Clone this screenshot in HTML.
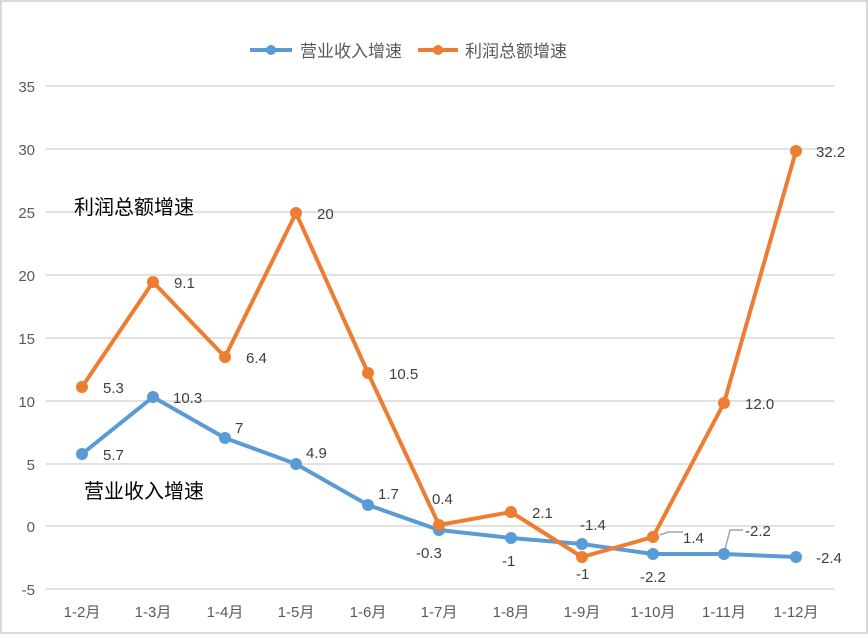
<!DOCTYPE html>
<html><head><meta charset="utf-8"><style>
html,body{margin:0;padding:0;background:#fff}
svg text{font-family:"Liberation Sans","Noto Sans CJK SC",sans-serif}
</style></head><body>
<svg width="868" height="634" viewBox="0 0 868 634" xmlns="http://www.w3.org/2000/svg">
<rect x="1" y="1" width="866" height="632" fill="#fff" stroke="#d9d9d9" stroke-width="2"/>
<g stroke="#d9d9d9" stroke-width="1.5">
<line x1="46" y1="86" x2="834" y2="86"/>
<line x1="46" y1="149" x2="834" y2="149"/>
<line x1="46" y1="212" x2="834" y2="212"/>
<line x1="46" y1="275" x2="834" y2="275"/>
<line x1="46" y1="338" x2="834" y2="338"/>
<line x1="46" y1="401" x2="834" y2="401"/>
<line x1="46" y1="464" x2="834" y2="464"/>
<line x1="46" y1="526" x2="834" y2="526"/>
<line x1="46" y1="589" x2="834" y2="589"/>
</g>
<g font-size="15" fill="#595959" text-anchor="end">
<text x="35" y="92">35</text><text x="35" y="155">30</text><text x="35" y="218">25</text>
<text x="35" y="281">20</text><text x="35" y="344">15</text><text x="35" y="407">10</text>
<text x="35" y="470">5</text><text x="35" y="532">0</text><text x="35" y="595">-5</text>
</g>
<g font-size="15" fill="#595959" text-anchor="middle">
<text x="82" y="617">1-2月</text><text x="153" y="617">1-3月</text><text x="225" y="617">1-4月</text>
<text x="296" y="617">1-5月</text><text x="368" y="617">1-6月</text><text x="439" y="617">1-7月</text>
<text x="511" y="617">1-8月</text><text x="582" y="617">1-9月</text><text x="653" y="617">1-10月</text>
<text x="724" y="617">1-11月</text><text x="796" y="617">1-12月</text>
</g>
<!-- legend -->
<line x1="250" y1="50" x2="292" y2="50" stroke="#5b9bd5" stroke-width="4"/>
<circle cx="271" cy="50" r="5" fill="#5b9bd5"/>
<text x="300" y="57" font-size="17" fill="#595959">营业收入增速</text>
<line x1="418" y1="50" x2="458" y2="50" stroke="#ed7d31" stroke-width="4"/>
<circle cx="438" cy="50" r="5" fill="#ed7d31"/>
<text x="465" y="57" font-size="17" fill="#595959">利润总额增速</text>
<!-- leader lines -->
<polyline points="660,535 668,532 683,532" fill="none" stroke="#a6a6a6" stroke-width="1.5"/>
<polyline points="724,553 730,530 743,530" fill="none" stroke="#a6a6a6" stroke-width="1.5"/>
<!-- blue -->
<polyline fill="none" stroke="#5b9bd5" stroke-width="4" stroke-linejoin="round" points="82,454 153,397 225,438 296,464 368,505 439,530 511,538 582,544 653,554 724,554 796,557"/>
<g fill="#5b9bd5">
<circle cx="82" cy="454" r="6"/><circle cx="153" cy="397" r="6"/><circle cx="225" cy="438" r="6"/><circle cx="296" cy="464" r="6"/><circle cx="368" cy="505" r="6"/><circle cx="439" cy="530" r="6"/><circle cx="511" cy="538" r="6"/><circle cx="582" cy="544" r="6"/><circle cx="653" cy="554" r="6"/><circle cx="724" cy="554" r="6"/><circle cx="796" cy="557" r="6"/>
</g>
<!-- orange -->
<polyline fill="none" stroke="#ed7d31" stroke-width="4" stroke-linejoin="round" points="82,387 153,282 225,357 296,213 368,373 439,525 511,512 582,557 653,537 724,403 796,151"/>
<g fill="#ed7d31">
<circle cx="82" cy="387" r="6"/><circle cx="153" cy="282" r="6"/><circle cx="225" cy="357" r="6"/><circle cx="296" cy="213" r="6"/><circle cx="368" cy="373" r="6"/><circle cx="439" cy="525" r="6"/><circle cx="511" cy="512" r="6"/><circle cx="582" cy="557" r="6"/><circle cx="653" cy="537" r="6"/><circle cx="724" cy="403" r="6"/><circle cx="796" cy="151" r="6"/>
</g>
<g font-size="15" fill="#404040">
<text x="103" y="393">5.3</text><text x="174" y="288">9.1</text><text x="246" y="363">6.4</text>
<text x="317" y="219">20</text><text x="389" y="379">10.5</text><text x="432" y="504">0.4</text>
<text x="532" y="518">2.1</text><text x="576" y="579">-1</text><text x="683" y="543">1.4</text>
<text x="745" y="409">12.0</text><text x="816" y="157">32.2</text>
<text x="103" y="460">5.7</text><text x="173" y="403">10.3</text><text x="235" y="433">7</text>
<text x="306" y="458">4.9</text><text x="378" y="499">1.7</text><text x="416" y="558">-0.3</text>
<text x="502" y="566">-1</text><text x="580" y="530">-1.4</text><text x="640" y="582">-2.2</text>
<text x="745" y="536">-2.2</text><text x="816" y="563">-2.4</text>
</g>
<text x="74" y="214" font-size="20" fill="#000">利润总额增速</text>
<text x="84" y="498" font-size="20" fill="#000">营业收入增速</text>
</svg>
</body></html>
